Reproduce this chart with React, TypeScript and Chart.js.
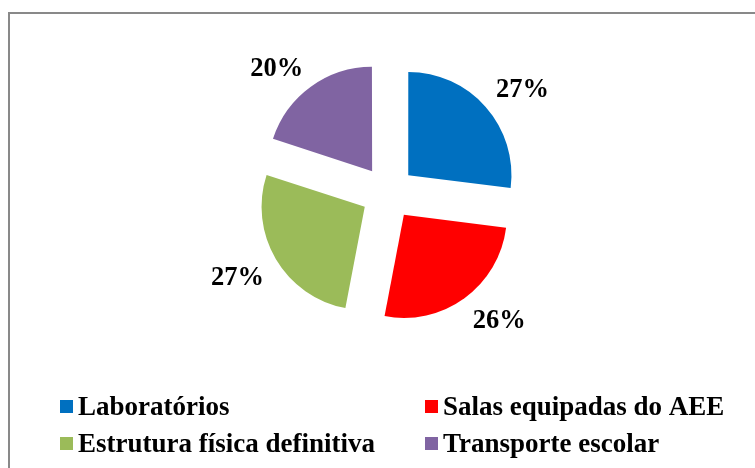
import React, { useEffect, useRef } from "react";
import { Chart, registerables } from "chart.js";

Chart.register(...registerables);

const categories = ["Laboratórios", "Salas equipadas do AEE", "Estrutura física definitiva", "Transporte escolar"];
const values = [27, 26, 27, 20];
const percentLabels = ["27%", "26%", "27%", "20%"];
const colors = ["#0070C0", "#FF0000", "#9BBB59", "#8064A2"];

const FONT = '"Liberation Serif", "Times New Roman", serif';

const framePlugin = {
  id: "frame",
  beforeDraw(chart: any) {
    const ctx = chart.ctx;
    ctx.save();
    ctx.fillStyle = "#ffffff";
    ctx.fillRect(0, 0, chart.width, chart.height);
    ctx.strokeStyle = "#898989";
    ctx.lineWidth = 2;
    ctx.strokeRect(9, 13, chart.width + 40, chart.height + 40);
    ctx.restore();
  },
};

const labelPlugin = {
  id: "pctLabels",
  afterDatasetsDraw(chart: any) {
    const ctx = chart.ctx;
    const meta = chart.getDatasetMeta(0);
    ctx.save();
    ctx.font = `bold 26.5px ${FONT}`;
    ctx.fillStyle = "#000000";
    ctx.textAlign = "center";
    ctx.textBaseline = "alphabetic";
    meta.data.forEach((arc: any, i: number) => {
      const p = arc.getProps(["x", "y", "startAngle", "endAngle", "outerRadius"], true);
      const shift = (arc.options.offset || 0) / 4;
      const mid = (p.startAngle + p.endAngle) / 2;
      const r = p.outerRadius + shift + 14;
      const cx = Math.cos(mid);
      const cy = Math.sin(mid);
      const text = percentLabels[i];
      const hw = ctx.measureText(text).width / 2;
      const hh = 9.5;
      const x = p.x + r * cx + hw * Math.sign(cx);
      const y = p.y + r * cy + hh * Math.sign(cy);
      ctx.fillText(text, x, y + 9);
    });
    ctx.restore();
  },
};

const legendPlugin = {
  id: "gridLegend",
  afterDraw(chart: any) {
    const ctx = chart.ctx;
    const colX = [60, 425];
    const rowY = [400, 437];
    const box = 13;
    ctx.save();
    ctx.font = `bold 27px ${FONT}`;
    ctx.textAlign = "left";
    ctx.textBaseline = "alphabetic";
    const bg = chart.data.datasets[0].backgroundColor;
    chart.data.labels.forEach((lab: string, i: number) => {
      const x = colX[i % 2];
      const y = rowY[Math.floor(i / 2)];
      ctx.fillStyle = bg[i];
      ctx.fillRect(x, y, box, box);
      ctx.fillStyle = "#000000";
      ctx.fillText(lab, x + 18, y + 15);
    });
    ctx.restore();
  },
};

export default function App() {
  const ref = useRef<HTMLCanvasElement | null>(null);
  useEffect(() => {
    if (!ref.current) return;
    const chart = new Chart(ref.current, {
      type: "pie",
      data: {
        labels: categories,
        datasets: [
          {
            data: values,
            backgroundColor: colors,
            borderWidth: 0,
            offset: 108,
            hoverOffset: 0,
          },
        ],
      },
      options: {
        responsive: false,
        animation: false,
        radius: 103,
        layout: { padding: { left: 21, right: 0, top: 0, bottom: 82 } },
        plugins: {
          legend: { display: false },
          tooltip: { enabled: false },
        },
      } as any,
      plugins: [framePlugin, labelPlugin, legendPlugin],
    });
    return () => chart.destroy();
  }, []);
  return (
    <div style={{ position: "fixed", left: 0, top: 0, width: 755, height: 468, overflow: "hidden", background: "#fff" }}>
      <canvas ref={ref} width={755} height={468} style={{ display: "block" }} />
    </div>
  );
}
